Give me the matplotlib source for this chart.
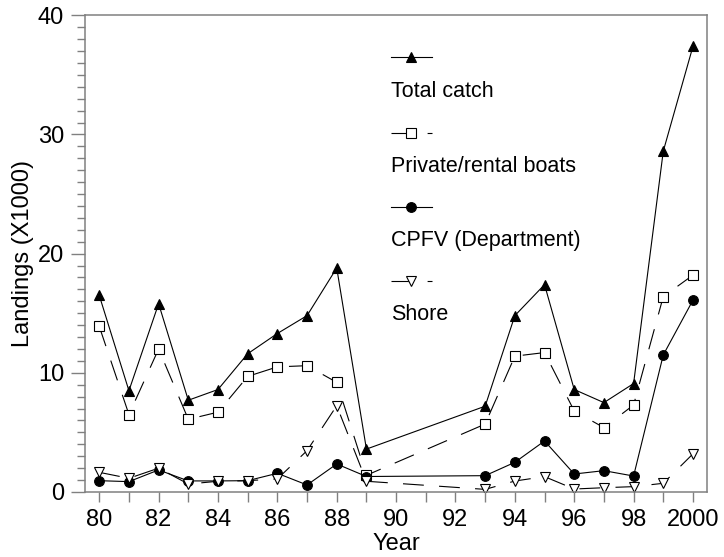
import matplotlib
matplotlib.use('Agg')
import matplotlib.pyplot as plt
from matplotlib.lines import Line2D
from matplotlib.ticker import MultipleLocator
import numpy as np

matplotlib.rcParams['font.family'] = ['Liberation Sans', 'DejaVu Sans']
matplotlib.rcParams['lines.scale_dashes'] = False

# landings by year (thousands of fish), no survey 1990-1992
years = [80, 81, 82, 83, 84, 85, 86, 87, 88, 89, 93, 94, 95, 96, 97, 98, 99, 100]
total_catch = [16.5, 8.5, 15.8, 7.7, 8.6, 11.6, 13.3, 14.8, 18.8, 3.6,
               7.2, 14.8, 17.4, 8.6, 7.5, 9.1, 28.6, 37.4]
private_boats = [13.9, 6.5, 12.0, 6.1, 6.7, 9.7, 10.5, 10.6, 9.2, 1.4,
                 5.7, 11.4, 11.7, 6.8, 5.4, 7.3, 16.4, 18.2]
cpfv = [0.95, 0.87, 1.85, 0.93, 0.93, 0.95, 1.57, 0.59, 2.35, 1.3,
        1.37, 2.49, 4.28, 1.51, 1.79, 1.34, 11.5, 16.1]
shore = [1.65, 1.15, 2.0, 0.67, 0.9, 0.95, 1.1, 3.47, 7.24, 0.9,
         0.22, 0.92, 1.29, 0.25, 0.36, 0.45, 0.73, 3.2]

xtick_pos = [80, 82, 84, 86, 88, 90, 92, 94, 96, 98, 100]
xtick_labels = ['80', '82', '84', '86', '88', '90', '92', '94', '96', '98', '2000']

DASH = (0, (15, 11))
series = [
    ('Total catch', total_catch, dict(marker='^', mfc='black', ls='-')),
    ('Private/rental boats', private_boats, dict(marker='s', mfc='white', ls=DASH)),
    ('CPFV (Department)', cpfv, dict(marker='o', mfc='black', ls='-')),
    ('Shore', shore, dict(marker='v', mfc='white', ls=DASH)),
]

fig = plt.figure(figsize=(7.24, 5.57), dpi=100)
ax = fig.add_axes([0.1174, 0.1167, 0.859, 0.8558])

for label, vals, st in series:
    ax.plot(years, vals, color='black', lw=0.8, ms=7, mec='black', mew=0.8, **st)

ax.set_xlim(79.52, 100.47)
ax.set_ylim(0, 40)
ax.set_xticks(xtick_pos)
ax.set_xticklabels(xtick_labels)
ax.xaxis.set_minor_locator(MultipleLocator(1))
ax.set_yticks([0, 10, 20, 30, 40])
ax.yaxis.set_minor_locator(MultipleLocator(1))

grey = '#808080'
for sp in ax.spines.values():
    sp.set_color(grey)
    sp.set_linewidth(1.1)
ax.tick_params(axis='both', which='both', direction='out', color=grey, width=1.0,
               labelsize=17)
ax.tick_params(axis='y', which='major', length=10, pad=5)
ax.tick_params(axis='y', which='minor', length=6)
ax.tick_params(axis='x', which='both', length=7, pad=5)

ax.set_xlabel('Year', fontsize=17, labelpad=2)
ax.set_ylabel('Landings (X1000)', fontsize=17, labelpad=3)

# key: short line sample with marker, name written underneath
px = lambda x, y: (x / 724.0, 1 - y / 557.0)
line_y = [57.3, 132.7, 206.7, 281.0]
for (label, vals, st), ly in zip(series, line_y):
    x0, y0 = px(391, ly)
    x1, _ = px(432, ly)
    xm, _ = px(411.5, ly)
    fig.add_artist(Line2D([x0, x1], [y0, y0], color='black', lw=0.8,
                          ls=st['ls'], transform=fig.transFigure))
    fig.add_artist(Line2D([xm], [y0], color='black', marker=st['marker'],
                          mfc=st['mfc'], mec='black', mew=0.8, ms=7, ls='none',
                          transform=fig.transFigure))
    tx, ty = px(391, ly + 34)
    fig.text(tx, ty, label, fontsize=15.5, va='center', ha='left')

fig.savefig('out.png', dpi=100)
